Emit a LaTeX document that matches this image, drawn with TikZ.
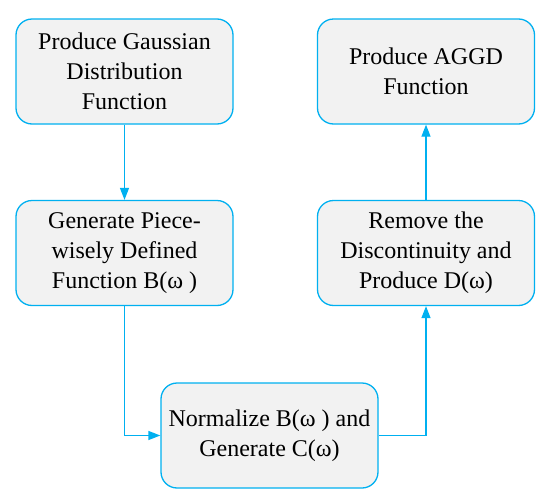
\documentclass[tikz,border=0pt]{standalone}
\usepackage{fontspec}
\setmainfont{Liberation Serif}
\usetikzlibrary{arrows.meta}
\definecolor{edge}{RGB}{0,176,240}
\definecolor{boxfill}{RGB}{242,242,242}
\begin{document}
\begin{tikzpicture}[x=1pt,y=1pt,
  stepbox/.style={draw=edge, fill=boxfill, line width=1.3pt, rounded corners=16pt,
    minimum width=217pt, minimum height=105pt, align=center, inner sep=0pt,
    font=\fontsize{24}{30}\selectfont},
  link/.style={draw=edge, line width=1.3pt, -{Triangle[length=12pt,width=9pt]}}]
\useasboundingbox (0,0) rectangle (550,-501);
\node[stepbox] (b1) at (124.5,-71.5) {Produce Gaussian\\Distribution\\Function};
\node[stepbox] (b2) at (124.5,-253) {Generate Piece-\\wisely Defined\\Function B(ω )};
\node[stepbox] (b3) at (269.5,-435.5) {Normalize B(ω ) and\\Generate C(ω)};
\node[stepbox] (b4) at (426,-253) {Remove the\\Discontinuity and\\Produce D(ω)};
\node[stepbox] (b5) at (426,-71.5) {Produce AGGD\\Function};
\draw[link] (b1) -- (b2);
\draw[link] (b2.south) |- (b3.west);
\draw[link] (b3.east) -| (b4.south);
\draw[link] (b4) -- (b5);
\end{tikzpicture}
\end{document}
